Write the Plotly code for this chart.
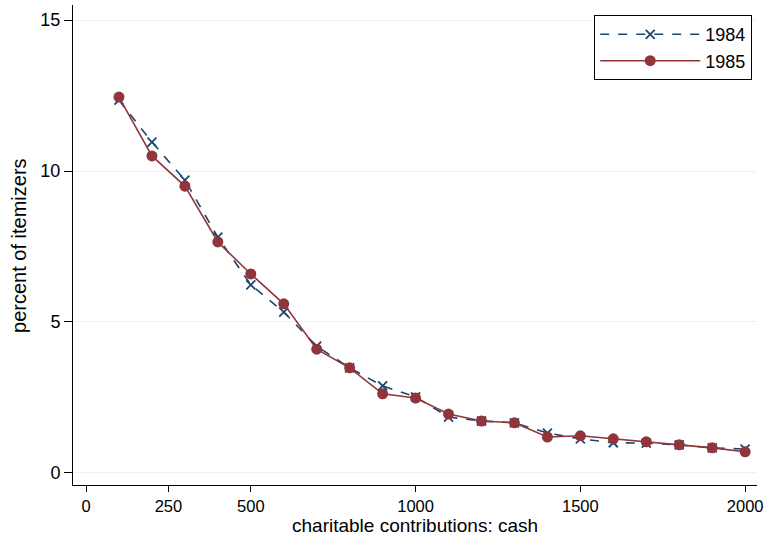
import plotly.graph_objects as go

x_vals = [100, 200, 300, 400, 500, 600, 700, 800, 900, 1000,
          1100, 1200, 1300, 1400, 1500, 1600, 1700, 1800, 1900, 2000]
y_1984 = [12.35, 10.96, 9.7, 7.81, 6.23, 5.33, 4.2, 3.48, 2.88, 2.52,
          1.85, 1.72, 1.66, 1.32, 1.13, 1.0, 0.99, 0.93, 0.83, 0.79]
y_1985 = [12.45, 10.5, 9.5, 7.65, 6.59, 5.6, 4.1, 3.48, 2.62, 2.48,
          1.95, 1.72, 1.66, 1.19, 1.23, 1.13, 1.03, 0.93, 0.83, 0.7]
x_ticks = [0, 250, 500, 1000, 1500, 2000]
y_ticks = [0, 5, 10, 15]
x_title = "charitable contributions: cash"
y_title = "percent of itemizers"

navy = "#1a476f"
maroon = "#90353b"
font = "Liberation Sans, Arial, sans-serif"

fig = go.Figure()
fig.add_trace(go.Scatter(
    x=x_vals, y=y_1984, name="1984", mode="lines+markers",
    line=dict(color=navy, width=1.6, dash="dash"),
    marker=dict(symbol="x-thin", size=9, line=dict(color=navy, width=1.8)),
))
fig.add_trace(go.Scatter(
    x=x_vals, y=y_1985, name="1985", mode="lines+markers",
    line=dict(color=maroon, width=1.6),
    marker=dict(symbol="circle", size=11, color=maroon),
))

fig.update_layout(
    width=769, height=535,
    margin=dict(l=73, r=12, t=5, b=50),
    paper_bgcolor="white", plot_bgcolor="white",
    font=dict(family=font, size=18, color="black"),
    showlegend=True,
    legend=dict(x=0.993, y=0.979, xanchor="right", yanchor="top",
                bordercolor="black", borderwidth=1, bgcolor="white",
                font=dict(size=18), itemwidth=100, tracegroupgap=4),
    xaxis=dict(
        range=[-39.5, 2036], tickvals=x_ticks, ticktext=[str(v) for v in x_ticks],
        showgrid=False, zeroline=False, showline=True, linecolor="black", linewidth=1,
        ticks="outside", ticklen=6, tickcolor="black", automargin=False,
        tickfont=dict(size=16.5), ticklabeloverflow="allow",
    ),
    yaxis=dict(
        range=[-0.4, 15.5], tickvals=y_ticks, ticktext=[str(v) for v in y_ticks],
        showgrid=True, gridcolor="#eaf2f3", gridwidth=1, zeroline=False,
        showline=True, linecolor="black", linewidth=1,
        ticks="outside", ticklen=8, tickcolor="black", automargin=False,
        tickfont=dict(size=18), ticklabeloverflow="allow",
    ),
    annotations=[
        dict(text=x_title, xref="paper", yref="paper", x=0.5, y=-0.0854,
             xanchor="center", yanchor="middle", showarrow=False,
             font=dict(size=19)),
        dict(text=y_title, xref="paper", yref="paper", x=-0.079, y=0.5,
             xanchor="center", yanchor="middle", showarrow=False, textangle=-90,
             font=dict(size=20)),
    ],
)

fig.write_html("out.html")
